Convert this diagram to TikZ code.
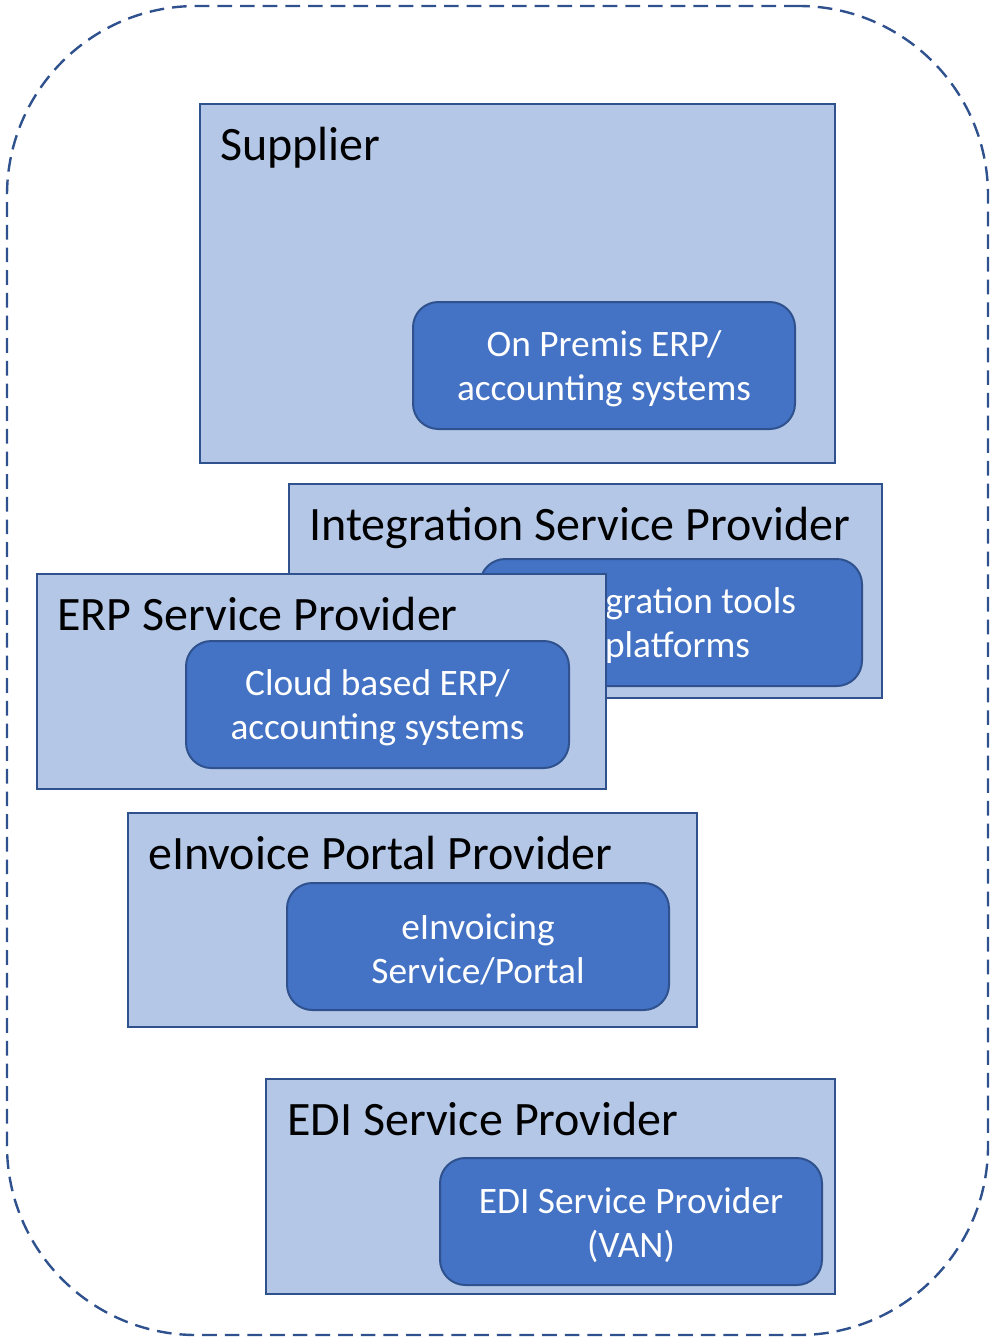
\documentclass[tikz,border=0pt]{standalone}
\usepackage{fontspec}
\setmainfont{Carlito}
\usetikzlibrary{fit}
\definecolor{boxfill}{HTML}{B4C7E7}
\definecolor{boxline}{HTML}{2F528F}
\definecolor{corefill}{HTML}{4472C4}
\tikzset{
  frame/.style={draw=boxline, line width=1.8pt, dash pattern=on 11pt off 6pt,
    rounded corners=142pt, inner sep=0pt},
  roleframe/.style={draw=boxline, fill=boxfill, line width=1.5pt, inner sep=0pt},
  rolename/.style={anchor=base west, inner sep=0pt, font=\fontsize{36}{43}\selectfont, text=black},
  corebox/.style={draw=boxline, fill=corefill, line width=1.5pt, inner sep=0pt,
    rounded corners=19pt},
  coretext/.style={align=center, text=white, inner sep=0pt, yshift=-2.5pt,
    font=\fontsize{28}{33}\selectfont}
}
\begin{document}
\begin{tikzpicture}[x=0.75pt, y=-0.75pt]
\useasboundingbox (0,0) rectangle (991,1338);
% outer dashed boundary
\node[frame, fit={(7,6) (988,1335)}] (boundary) {};

% Supplier
\node[roleframe, fit={(200,104) (835,463)}] (supplier) {};
\node[rolename] (supplierT) at (220,160) {Supplier};
\node[corebox, fit={(413,302) (795,429)}] (onprem) {};
\node[coretext] (onpremT) at (onprem.center) {On Premis ERP/\\accounting systems};

% Integration Service Provider
\node[roleframe, fit={(289,484) (882,698)}] (isp) {};
\node[rolename] (ispT) at (309,540) {Integration Service Provider};
\node[corebox, fit={(480,559) (862,686)}] (tools) {};
\node[coretext] (toolsT) at (tools.center) {Integration tools\\\hspace*{0.35em}platforms};

% ERP Service Provider
\node[roleframe, fit={(37,574) (606,789)}] (erp) {};
\node[rolename] (erpT) at (57,630) {ERP Service Provider};
\node[corebox, fit={(186,641) (569,768)}] (cloud) {};
\node[coretext] (cloudT) at (cloud.center) {Cloud based ERP/\\accounting systems};

% eInvoice Portal Provider
\node[roleframe, fit={(128,813) (697,1027)}] (portal) {};
\node[rolename] (portalT) at (148,869) {eInvoice Portal Provider};
\node[corebox, fit={(287,883) (669,1010)}] (einv) {};
\node[coretext] (einvT) at (einv.center) {eInvoicing\\Service/Portal};

% EDI Service Provider
\node[roleframe, fit={(266,1079) (835,1294)}] (edi) {};
\node[rolename] (ediT) at (287,1135) {EDI Service Provider};
\node[corebox, fit={(440,1158) (822,1285)}] (van) {};
\node[coretext] (vanT) at (van.center) {EDI Service Provider\\(VAN)};
\end{tikzpicture}
\end{document}
